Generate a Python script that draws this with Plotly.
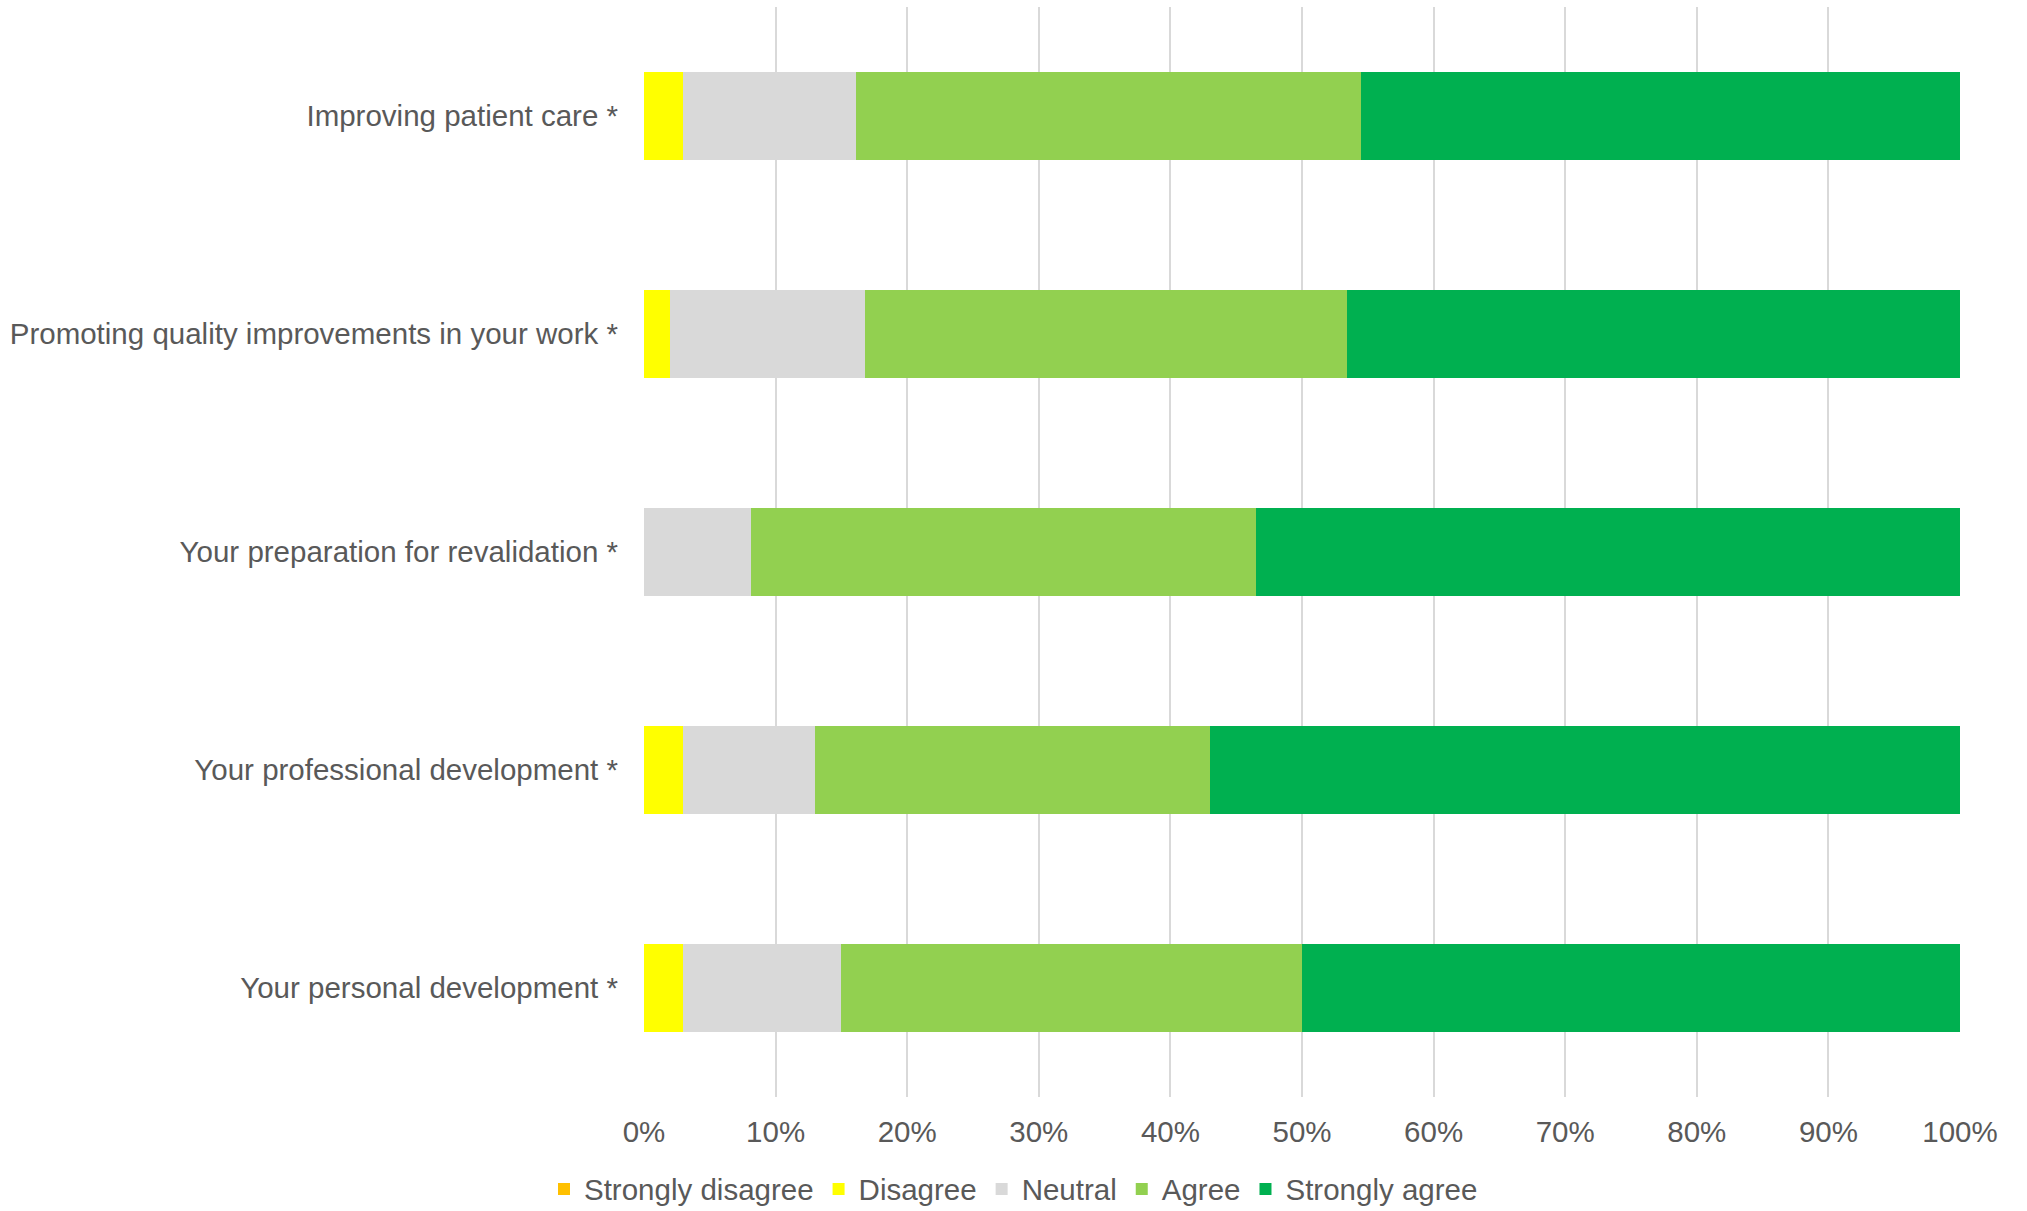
import plotly.graph_objects as go

# Survey statements (top to bottom)
statements = [
    "Improving patient care *",
    "Promoting quality improvements in your work *",
    "Your preparation for revalidation *",
    "Your professional development *",
    "Your personal development *",
]

# Share of responses per statement, in percent
strongly_disagree = [0.0, 0.0, 0.0, 0.0, 0.0]
disagree = [3.0, 2.0, 0.0, 3.0, 3.0]
neutral = [13.1, 14.8, 8.1, 10.0, 12.0]
agree = [38.4, 36.6, 38.4, 30.0, 35.0]
strongly_agree = [45.5, 46.6, 53.5, 57.0, 50.0]

x_ticks = list(range(0, 101, 10))

series = [
    ("Strongly disagree", strongly_disagree, "#FFC000"),
    ("Disagree", disagree, "#FFFF00"),
    ("Neutral", neutral, "#D9D9D9"),
    ("Agree", agree, "#92D050"),
    ("Strongly agree", strongly_agree, "#00B050"),
]

FONT = "Liberation Sans, Arial, sans-serif"
TEXT = "#595959"
SIZE = 29.5

fig = go.Figure()
for name, vals, color in series:
    fig.add_trace(go.Bar(
        y=statements,
        x=vals,
        name=name,
        orientation="h",
        marker=dict(color=color, line=dict(width=0)),
    ))

fig.update_layout(
    barmode="stack",
    bargap=0.6,
    width=2027,
    height=1211,
    margin=dict(l=644, r=67, t=7, b=114),
    paper_bgcolor="white",
    plot_bgcolor="white",
    font=dict(family=FONT, size=SIZE, color=TEXT),
    showlegend=True,
    legend=dict(
        orientation="h",
        xref="container",
        yref="container",
        x=0.5,
        xanchor="center",
        y=0.018,
        yanchor="middle",
        font=dict(family=FONT, size=SIZE, color=TEXT),
        itemwidth=30,
        traceorder="normal",
    ),
)

fig.update_xaxes(
    range=[0, 100],
    tickvals=x_ticks,
    ticktext=[f"{t}%" for t in x_ticks],
    showgrid=True,
    gridcolor="#D9D9D9",
    gridwidth=2,
    zeroline=False,
    showline=False,
    ticks="",
    ticklabelstandoff=14,
    tickfont=dict(family=FONT, size=SIZE, color=TEXT),
)

fig.update_yaxes(
    autorange="reversed",
    showgrid=False,
    zeroline=False,
    showline=False,
    ticks="",
    ticklabelstandoff=25,
    tickfont=dict(family=FONT, size=SIZE, color=TEXT),
)

fig.write_html("out.html")
